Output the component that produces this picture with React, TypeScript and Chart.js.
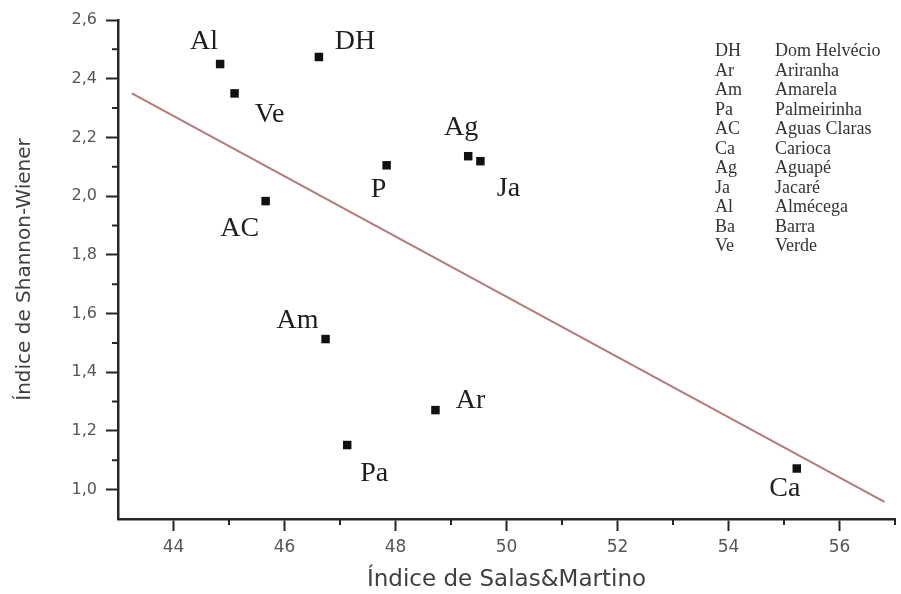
import React, { useEffect, useRef } from "react";
import { Chart, registerables } from "chart.js";

Chart.register(...registerables);

// ---- data ----
const siteCodes = ["DH", "Ar", "Am", "Pa", "AC", "Ca", "Ag", "Ja", "Al", "P", "Ve"];
const salasMartino = [46.62, 48.72, 46.74, 47.13, 45.66, 55.23, 49.31, 49.53, 44.84, 47.84, 45.1];
const shannonWiener = [2.474, 1.271, 1.513, 1.152, 1.983, 1.072, 2.136, 2.119, 2.45, 2.105, 2.35];

const trendX = [43.25, 56.81];
const trendY = [2.35, 0.958];

const xMajorTicks = [44, 46, 48, 50, 52, 54, 56];
const xMinorTicks = [45, 47, 49, 51, 53, 55, 57];
const yMajorTicks = [1.0, 1.2, 1.4, 1.6, 1.8, 2.0, 2.2, 2.4, 2.6];
const yMinorTicks = [1.1, 1.3, 1.5, 1.7, 1.9, 2.1, 2.3, 2.5];

const legendCodes = ["DH", "Ar", "Am", "Pa", "AC", "Ca", "Ag", "Ja", "Al", "Ba", "Ve"];
const legendNames = [
  "Dom Helvécio",
  "Ariranha",
  "Amarela",
  "Palmeirinha",
  "Aguas Claras",
  "Carioca",
  "Aguapé",
  "Jacaré",
  "Almécega",
  "Barra",
  "Verde",
];

const xTitle = "Índice de Salas&Martino";
const yTitle = "Índice de Shannon-Wiener";

// ---- styles (label offsets in px relative to each marker) ----
const labelOffsets: Record<string, [number, number]> = {
  DH: [36, -17],
  Ar: [35, -11],
  Am: [-28, -20],
  Pa: [27, 27],
  AC: [-26, 26],
  Ca: [-12, 18],
  Ag: [-7, -30],
  Ja: [28, 26],
  Al: [-16, -24],
  P: [-8, 23],
  Ve: [35, 20],
};

const AXIS_COLOR = "#262626";

const pointLabelPlugin = {
  id: "pointLabels",
  afterDatasetsDraw(chart: any) {
    const meta = chart.getDatasetMeta(0);
    const ctx = chart.ctx;
    ctx.save();
    ctx.font = "28px 'Liberation Serif', serif";
    ctx.fillStyle = "#1e1e1e";
    ctx.textAlign = "center";
    ctx.textBaseline = "alphabetic";
    meta.data.forEach((el: any, i: number) => {
      const code = siteCodes[i];
      const off = labelOffsets[code] || [0, 0];
      ctx.fillText(code, el.x + off[0], el.y + off[1] + 9);
    });
    ctx.restore();
  },
};

const minorTickPlugin = {
  id: "minorTicks",
  afterDraw(chart: any) {
    const ctx = chart.ctx;
    const xs = chart.scales.x;
    const ys = chart.scales.y;
    ctx.save();
    ctx.strokeStyle = AXIS_COLOR;
    ctx.lineWidth = 2;
    ctx.beginPath();
    xMinorTicks.forEach((v) => {
      const px = xs.getPixelForValue(v);
      ctx.moveTo(px, xs.top);
      ctx.lineTo(px, xs.top + 6);
    });
    yMinorTicks.forEach((v) => {
      const py = ys.getPixelForValue(v);
      ctx.moveTo(ys.right, py);
      ctx.lineTo(ys.right - 6, py);
    });
    ctx.stroke();
    ctx.restore();
  },
};

const sideLegendPlugin = {
  id: "sideLegend",
  afterDraw(chart: any) {
    const ctx = chart.ctx;
    ctx.save();
    ctx.font = "18px 'Liberation Serif', serif";
    ctx.fillStyle = "#333";
    ctx.textAlign = "left";
    ctx.textBaseline = "alphabetic";
    const x0 = 715;
    const x1 = 775;
    const y0 = 50;
    const dy = 19.5;
    legendCodes.forEach((c, i) => {
      const y = y0 + i * dy + 6;
      ctx.fillText(c, x0, y);
      ctx.fillText(legendNames[i], x1, y);
    });
    ctx.restore();
  },
};

export default function App() {
  const canvasRef = useRef<HTMLCanvasElement | null>(null);

  useEffect(() => {
    if (!canvasRef.current) return;
    const points = salasMartino.map((x, i) => ({ x, y: shannonWiener[i] }));
    const trend = trendX.map((x, i) => ({ x, y: trendY[i] }));

    const chart = new Chart(canvasRef.current, {
      type: "scatter",
      data: {
        datasets: [
          {
            data: points,
            pointStyle: "rect",
            pointRadius: 6,
            pointHoverRadius: 6,
            backgroundColor: "#111",
            borderColor: "#111",
            borderWidth: 0,
          },
          {
            data: trend,
            showLine: true,
            pointRadius: 0,
            borderColor: "#b47a7a",
            borderWidth: 2,
            backgroundColor: "#b47a7a",
          },
        ],
      },
      options: {
        animation: false,
        responsive: false,
        devicePixelRatio: 1,
        layout: { padding: { left: 0, top: 20, right: 4, bottom: 0 } },
        plugins: {
          legend: { display: false },
          tooltip: { enabled: false },
        },
        scales: {
          x: {
            type: "linear",
            min: 43,
            max: 57,
            afterBuildTicks: (scale: any) => {
              scale.ticks = xMajorTicks.map((v) => ({ value: v }));
            },
            afterFit: (scale: any) => {
              scale.height = 75;
            },
            border: { display: true, color: AXIS_COLOR, width: 2.5 },
            grid: {
              drawOnChartArea: false,
              drawTicks: true,
              tickLength: 12,
              tickWidth: 2,
              tickColor: AXIS_COLOR,
            },
            ticks: {
              color: "#555",
              font: { family: "'DejaVu Sans', sans-serif", size: 17 },
              padding: 6,
              maxRotation: 0,
              callback: (v: any) => String(v),
            },
            title: {
              display: true,
              text: xTitle,
              color: "#404040",
              font: { family: "'DejaVu Sans', sans-serif", size: 23 },
              padding: { top: 0, bottom: 0 },
            },
          },
          y: {
            type: "linear",
            min: 0.9,
            max: 2.6,
            afterBuildTicks: (scale: any) => {
              scale.ticks = yMajorTicks.map((v) => ({ value: v }));
            },
            afterFit: (scale: any) => {
              scale.width = 118;
            },
            border: { display: true, color: AXIS_COLOR, width: 2.5 },
            grid: {
              drawOnChartArea: false,
              drawTicks: true,
              tickLength: 12,
              tickWidth: 2,
              tickColor: AXIS_COLOR,
            },
            ticks: {
              color: "#555",
              font: { family: "'DejaVu Sans', sans-serif", size: 16 },
              padding: 9,
              callback: (v: any) => Number(v).toFixed(1).replace(".", ","),
            },
            title: {
              display: true,
              text: yTitle,
              color: "#404040",
              font: { family: "'DejaVu Sans', sans-serif", size: 20 },
              padding: { top: 13, bottom: 0 },
            },
          },
        },
      },
      plugins: [pointLabelPlugin, minorTickPlugin, sideLegendPlugin],
    });
    return () => chart.destroy();
  }, []);

  return (
    <div style={{ position: "absolute", left: 0, top: 0, width: 901, height: 594, background: "#fff" }}>
      <canvas ref={canvasRef} width={901} height={594} />
    </div>
  );
}
